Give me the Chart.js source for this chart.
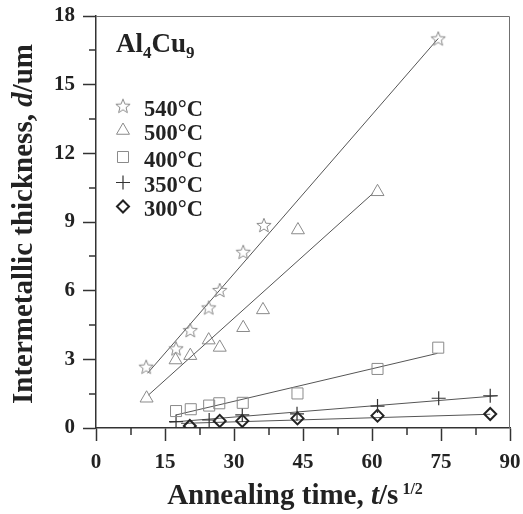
<!DOCTYPE html>
<html>
<head>
<meta charset="utf-8">
<script src="https://cdn.jsdelivr.net/npm/chart.js@4.4.0/dist/chart.umd.min.js"></script>
<style>
  html, body { margin: 0; padding: 0; background: #fff; }
  #thicknessChart { display: block; }
</style>
</head>
<body>
<canvas id="thicknessChart" width="523" height="514"></canvas>
<script>
// Annealing time t (s^1/2) vs Al4Cu9 thickness d (um)
const t540 = [10.9, 17.4, 20.5, 24.5, 26.9, 32.0, 36.5, 74.4];
const d540 = [2.68, 3.48, 4.28, 5.27, 6.03, 7.70, 8.87, 17.02];

const t500 = [11.0, 17.3, 20.5, 24.5, 26.9, 32.0, 36.3, 43.9, 61.2];
const d500 = [1.30, 2.97, 3.16, 3.84, 3.52, 4.38, 5.16, 8.65, 10.32];

const t400 = [17.4, 20.6, 24.6, 26.8, 31.9, 43.8, 61.2, 74.4];
const d400 = [0.74, 0.82, 0.98, 1.08, 1.10, 1.51, 2.58, 3.51];

const t350 = [17.4, 24.6, 31.8, 43.7, 61.2, 74.5, 85.7];
const d350 = [0.28, 0.35, 0.57, 0.62, 0.96, 1.30, 1.41];

const t300 = [20.4, 26.9, 31.8, 43.8, 61.2, 85.7];
const d300 = [0.09, 0.31, 0.31, 0.42, 0.54, 0.61];

// end points of the fitted lines
const fit540T = [11.2, 74.4];
const fit540D = [2.39, 17.02];
const fit500T = [11.4, 60.2];
const fit500D = [1.44, 10.25];
const fit400T = [17.4, 74.2];
const fit400D = [0.57, 3.26];
const fit350T = [16.0, 87.4];
const fit350D = [0.25, 1.41];
const fit300T = [18.5, 85.7];
const fit300D = [0.20, 0.60];

const seriesLabels = ["540°C", "500°C", "400°C", "350°C", "300°C"];
const xTickLabels = [0, 15, 30, 45, 60, 75, 90];
const yTickLabels = [0, 3, 6, 9, 12, 15, 18];

const SERIF = '"Liberation Serif", "Times New Roman", serif';
const INK = "#222";
const LIGHT = "#8a8a8a";

// outlined five point star, Chart.js only has an asterisk
function makeStar(color) {
  const c = document.createElement("canvas");
  c.width = 18;
  c.height = 18;
  const g = c.getContext("2d");
  g.strokeStyle = color;
  g.lineWidth = 1;
  g.beginPath();
  for (let i = 0; i < 10; i++) {
    const r = i % 2 === 0 ? 7.5 : 3.2;
    const a = -Math.PI / 2 + i * Math.PI / 5;
    const px = 9 + r * Math.cos(a);
    const py = 9.8 + r * Math.sin(a);
    if (i === 0) g.moveTo(px, py); else g.lineTo(px, py);
  }
  g.closePath();
  g.stroke();
  return c;
}
const starImg = makeStar(LIGHT);

function toPoints(ts, ds) {
  return ts.map((t, i) => ({ x: t, y: ds[i] }));
}

function markerSet(label, ts, ds, style, radius, color, width) {
  return {
    label: label,
    data: toPoints(ts, ds),
    showLine: false,
    pointStyle: style,
    pointRadius: radius,
    pointBorderColor: color,
    pointBackgroundColor: "rgba(0,0,0,0)",
    pointBorderWidth: width
  };
}

function fitSet(ts, ds) {
  return {
    label: "",
    data: toPoints(ts, ds),
    showLine: true,
    borderColor: "#555",
    borderWidth: 1,
    pointRadius: 0,
    fill: false
  };
}

const markerSets = [
  markerSet(seriesLabels[0], t540, d540, starImg, 7, LIGHT, 1),
  markerSet(seriesLabels[1], t500, d500, "triangle", 7.5, LIGHT, 1),
  markerSet(seriesLabels[2], t400, d400, "rect", 7.8, LIGHT, 1),
  markerSet(seriesLabels[3], t350, d350, "cross", 7, "#333", 1.2),
  markerSet(seriesLabels[4], t300, d300, "rectRot", 6, "#222", 2)
];

const fitSets = [
  fitSet(fit540T, fit540D),
  fitSet(fit500T, fit500D),
  fitSet(fit400T, fit400D),
  fitSet(fit350T, fit350D),
  fitSet(fit300T, fit300D)
];

// draw text made of pieces with different fonts, centred on x
function drawPieces(ctx, pieces, cx, baseline) {
  let w = 0;
  pieces.forEach(p => { ctx.font = p.font; w += ctx.measureText(p.text).width; });
  let x = cx - w / 2;
  pieces.forEach(p => {
    ctx.font = p.font;
    ctx.fillText(p.text, x, baseline + (p.dy || 0));
    x += ctx.measureText(p.text).width;
  });
}

const figureDecor = {
  id: "figureDecor",
  afterDraw(chart) {
    const ctx = chart.ctx;
    const area = chart.chartArea;
    const xs = chart.scales.x;
    const ys = chart.scales.y;
    ctx.save();

    // top and right frame lines
    ctx.strokeStyle = "#707070";
    ctx.lineWidth = 1;
    ctx.beginPath();
    ctx.moveTo(area.left, area.top + 0.5);
    ctx.lineTo(area.right - 0.5, area.top + 0.5);
    ctx.lineTo(area.right - 0.5, area.bottom);
    ctx.stroke();

    // minor ticks
    ctx.strokeStyle = "#333";
    ctx.lineWidth = 1.5;
    ctx.beginPath();
    xs.ticks.forEach(tk => {
      if (xTickLabels.includes(tk.value)) return;
      const px = Math.round(xs.getPixelForValue(tk.value));
      ctx.moveTo(px, area.bottom);
      ctx.lineTo(px, area.bottom + 7);
    });
    ys.ticks.forEach(tk => {
      if (yTickLabels.includes(tk.value)) return;
      const py = Math.round(ys.getPixelForValue(tk.value));
      ctx.moveTo(area.left, py);
      ctx.lineTo(area.left - 7, py);
    });
    ctx.stroke();

    ctx.fillStyle = INK;
    ctx.textAlign = "left";
    ctx.textBaseline = "alphabetic";

    // x axis title
    const big = "bold 29px " + SERIF;
    const bigItalic = "italic bold 29px " + SERIF;
    drawPieces(ctx, [
      { text: "Annealing time, ", font: big },
      { text: "t", font: bigItalic },
      { text: "/s", font: big },
      { text: " 1/2", font: "bold 16px " + SERIF, dy: -10 }
    ], 295, 504);

    // y axis title
    ctx.save();
    ctx.translate(31.5, 224);
    ctx.rotate(-Math.PI / 2);
    drawPieces(ctx, [
      { text: "Intermetallic thickness, ", font: big },
      { text: "d", font: bigItalic },
      { text: "/um", font: big }
    ], 0, 0);
    ctx.restore();

    // phase label Al4Cu9
    let x = 116;
    const phase = [
      { text: "Al", font: "bold 27px " + SERIF, dy: 0 },
      { text: "4", font: "bold 17px " + SERIF, dy: 6 },
      { text: "Cu", font: "bold 27px " + SERIF, dy: 0 },
      { text: "9", font: "bold 17px " + SERIF, dy: 6 }
    ];
    phase.forEach(p => {
      ctx.font = p.font;
      ctx.fillText(p.text, x, 52 + p.dy);
      x += ctx.measureText(p.text).width;
    });

    // legend
    const rows = [106.5, 130.5, 157, 182.5, 206.5];
    ctx.font = "bold 22.5px " + SERIF;
    markerSets.forEach((ds, i) => {
      const cy = rows[i];
      if (ds.pointStyle === starImg) {
        ctx.drawImage(starImg, 123 - 9, cy - 9.8);
      } else {
        ctx.save();
        ctx.strokeStyle = ds.pointBorderColor;
        ctx.fillStyle = ds.pointBackgroundColor;
        ctx.lineWidth = ds.pointBorderWidth;
        Chart.helpers.drawPoint(ctx, {
          pointStyle: ds.pointStyle,
          radius: ds.pointRadius,
          borderWidth: ds.pointBorderWidth,
          rotation: 0
        }, 123, cy);
        ctx.restore();
      }
      ctx.fillStyle = INK;
      ctx.fillText(ds.label, 144, cy + 9.8);
    });

    ctx.restore();
  }
};

const tickFont = { family: SERIF, size: 21, weight: "bold" };

new Chart(document.getElementById("thicknessChart"), {
  type: "scatter",
  data: { datasets: markerSets.concat(fitSets) },
  options: {
    responsive: false,
    animation: false,
    events: [],
    layout: { padding: { top: 16, right: 13, left: 0, bottom: 0 } },
    plugins: {
      legend: { display: false },
      tooltip: { enabled: false }
    },
    scales: {
      x: {
        type: "linear",
        min: 0,
        max: 90,
        afterFit: s => {
          s.height = 86;
          s.paddingLeft = 0;
          s.paddingRight = 0;
        },
        ticks: {
          stepSize: 7.5,
          autoSkip: false,
          maxRotation: 0,
          padding: 9,
          color: INK,
          font: tickFont,
          callback: v => (xTickLabels.includes(v) ? v : "")
        },
        grid: {
          drawOnChartArea: false,
          tickLength: 13,
          tickWidth: 1.5,
          tickColor: c => (c.tick && xTickLabels.includes(c.tick.value) ? "#333" : "rgba(0,0,0,0)")
        },
        border: { color: "#333", width: 1.5 }
      },
      y: {
        type: "linear",
        min: 0,
        max: 18,
        afterFit: s => {
          s.width = 96;
          s.paddingTop = 0;
          s.paddingBottom = 0;
        },
        ticks: {
          stepSize: 1.5,
          autoSkip: false,
          padding: 8,
          color: INK,
          font: tickFont,
          callback: v => (yTickLabels.includes(v) ? v : "")
        },
        grid: {
          drawOnChartArea: false,
          tickLength: 13,
          tickWidth: 1.5,
          tickColor: c => (c.tick && yTickLabels.includes(c.tick.value) ? "#333" : "rgba(0,0,0,0)")
        },
        border: { color: "#333", width: 1.5 }
      }
    }
  },
  plugins: [figureDecor]
});
</script>
</body>
</html>
